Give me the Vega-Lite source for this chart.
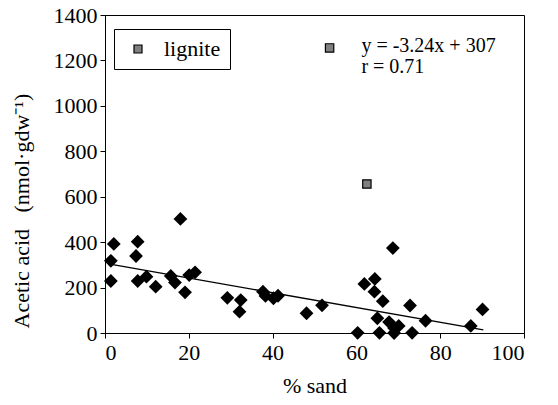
{
  "$schema": "https://vega.github.io/schema/vega-lite/v6.json",
  "width": 419,
  "height": 318,
  "autosize": {"type": "none"},
  "padding": {"left": 105, "top": 15, "right": 34, "bottom": 72},
  "background": "white",
  "config": {
    "font": "Liberation Serif",
    "view": {"stroke": "black", "strokeWidth": 1},
    "axis": {
      "grid": false,
      "domainColor": "black",
      "tickColor": "black",
      "tickSize": 5,
      "labelFont": "Liberation Serif",
      "labelFontSize": 22,
      "labelColor": "black",
      "titleFont": "Liberation Serif",
      "titleFontSize": 22,
      "titleFontWeight": "normal",
      "titleColor": "black"
    }
  },
  "datasets": {
    "soil": [
      {"sand": 1.4, "acetic": 318}, {"sand": 1.4, "acetic": 229}, {"sand": 2.1, "acetic": 392},
      {"sand": 7.8, "acetic": 402}, {"sand": 7.4, "acetic": 339}, {"sand": 7.8, "acetic": 229},
      {"sand": 9.9, "acetic": 248}, {"sand": 12.1, "acetic": 204}, {"sand": 15.7, "acetic": 251},
      {"sand": 16.7, "acetic": 222}, {"sand": 18.0, "acetic": 502}, {"sand": 19.1, "acetic": 179},
      {"sand": 20.1, "acetic": 255}, {"sand": 21.5, "acetic": 267}, {"sand": 29.2, "acetic": 155},
      {"sand": 32.4, "acetic": 145}, {"sand": 32.1, "acetic": 94}, {"sand": 37.7, "acetic": 182},
      {"sand": 38.3, "acetic": 163}, {"sand": 40.2, "acetic": 153}, {"sand": 41.3, "acetic": 164},
      {"sand": 48.1, "acetic": 87}, {"sand": 51.8, "acetic": 122}, {"sand": 60.3, "acetic": 1},
      {"sand": 61.9, "acetic": 216}, {"sand": 64.4, "acetic": 238}, {"sand": 64.3, "acetic": 182},
      {"sand": 66.3, "acetic": 140}, {"sand": 68.7, "acetic": 374}, {"sand": 72.8, "acetic": 121},
      {"sand": 76.5, "acetic": 54}, {"sand": 65.0, "acetic": 65}, {"sand": 65.5, "acetic": 1},
      {"sand": 67.8, "acetic": 48}, {"sand": 69.0, "acetic": 22}, {"sand": 70.1, "acetic": 31},
      {"sand": 69.0, "acetic": 0}, {"sand": 73.3, "acetic": 1}, {"sand": 87.3, "acetic": 31},
      {"sand": 90.1, "acetic": 104}
    ],
    "lignite": [
      {"sand": 62.5, "acetic": 656, "type": "lignite"},
      {"sand": 53.6, "acetic": 1255, "type": "lignite"}
    ],
    "trend": [
      {"sand": 1.2, "acetic": 303},
      {"sand": 90.3, "acetic": 14}
    ],
    "annot": [
      {"sand": 61.2, "acetic": 1236, "label": ["y = -3.24x + 307", "r = 0.71"]}
    ]
  },
  "layer": [
    {
      "data": {"name": "trend"},
      "mark": {"type": "line", "color": "black", "strokeWidth": 1.3},
      "encoding": {
        "x": {"field": "sand", "type": "quantitative", "scale": {"domain": [0, 100], "nice": false},
              "axis": {"values": [0, 20, 40, 60, 80, 100], "format": "d", "title": "% sand", "titlePadding": 12, "labelPadding": 4}},
        "y": {"field": "acetic", "type": "quantitative", "scale": {"domain": [0, 1400], "nice": false},
              "axis": {"values": [0, 200, 400, 600, 800, 1000, 1200, 1400], "format": "d",
                       "title": "Acetic acid\u2002\u00a0(nmol·gdw⁻¹)", "labelPadding": 3,
                       "titleAnchor": "start", "titleAlign": "left", "titleBaseline": "alphabetic",
                       "titleX": -77, "titleY": 313}}
      }
    },
    {
      "data": {"name": "soil"},
      "mark": {"type": "point", "shape": "diamond", "filled": true, "color": "black", "opacity": 1, "size": 190},
      "encoding": {
        "x": {"field": "sand", "type": "quantitative"},
        "y": {"field": "acetic", "type": "quantitative"}
      }
    },
    {
      "data": {"name": "lignite"},
      "mark": {"type": "point", "shape": "square", "filled": true, "opacity": 1, "size": 70, "stroke": "black", "strokeWidth": 1.2},
      "encoding": {
        "x": {"field": "sand", "type": "quantitative"},
        "y": {"field": "acetic", "type": "quantitative"},
        "fill": {"field": "type", "type": "nominal", "scale": {"domain": ["lignite"], "range": ["#808080"]},
                 "legend": {"title": null, "orient": "none", "legendX": 9, "legendY": 14,
                            "strokeColor": "black", "fillColor": "white", "padding": 9,
                            "symbolType": "square", "symbolSize": 64, "symbolStrokeColor": "black", "symbolStrokeWidth": 1.2,
                            "symbolOffset": 4, "labelOffset": 15, "labelFont": "Liberation Serif", "labelFontSize": 22,
                            "labelColor": "black"}}
      }
    },
    {
      "data": {"name": "annot"},
      "mark": {"type": "text", "align": "left", "baseline": "alphabetic", "fontSize": 20, "lineHeight": 21, "font": "Liberation Serif", "color": "black"},
      "encoding": {
        "x": {"field": "sand", "type": "quantitative"},
        "y": {"field": "acetic", "type": "quantitative"},
        "text": {"field": "label"}
      }
    }
  ]
}
